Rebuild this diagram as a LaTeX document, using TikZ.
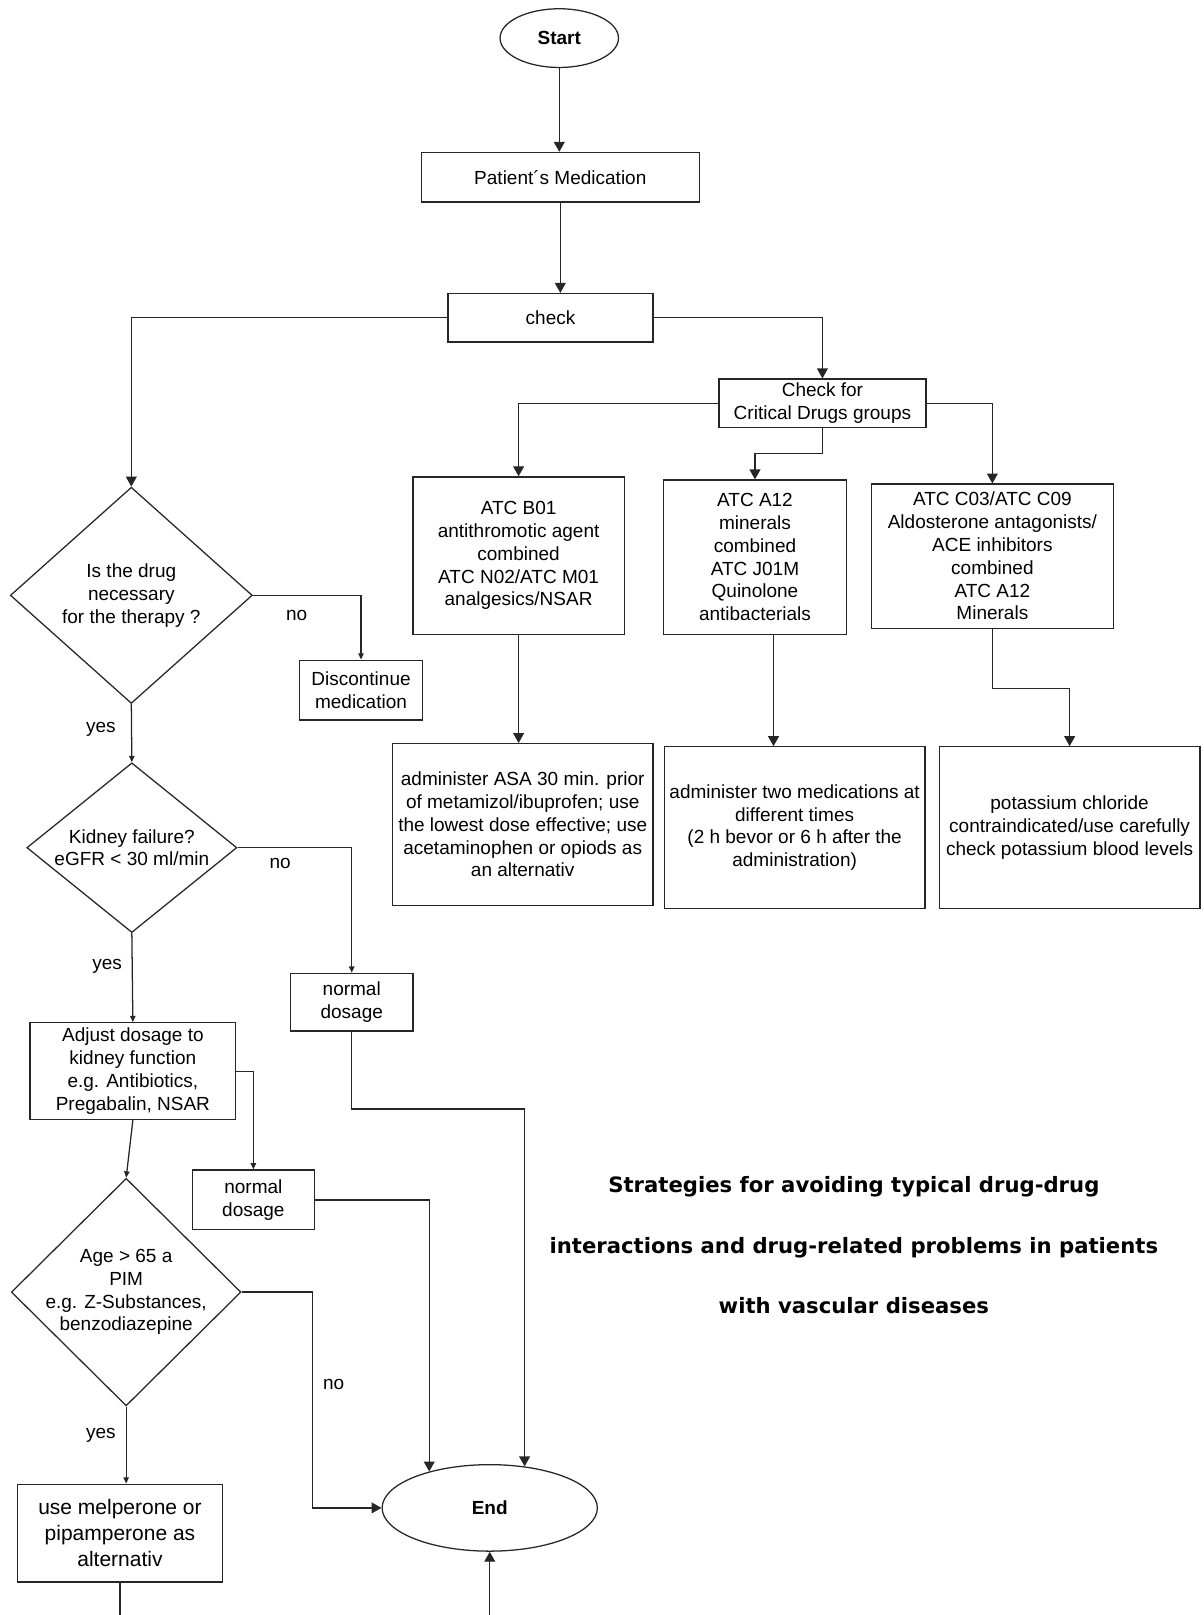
\documentclass[tikz,border=0pt]{standalone}
\usepackage{fontspec}
\setmainfont{Liberation Sans}
\newfontfamily\headfont{DejaVu Sans}
\usetikzlibrary{shapes.geometric}
\usetikzlibrary{arrows, arrows.meta}
\tikzset{flow line/.style={line width=0.7pt, draw=black!85}}
\tikzset{big arrow/.style={flow line, -{Triangle[length=5.5pt, width=6pt]}},
         small arrow/.style={flow line, -{Triangle[length=3.5pt, width=3pt]}}}
\tikzset{flow box/.style={draw=black!85, line width=0.7pt, rectangle, align=center,
           inner sep=0pt, font=\fontsize{10.5}{12.6}\selectfont},
         flow diamond/.style={flow box, diamond, inner sep=-3pt},
         flow end/.style={flow box, ellipse, font=\fontsize{10.5}{12.6}\selectfont\bfseries},
         flow label/.style={inner sep=0pt, font=\fontsize{10.5}{12.6}\selectfont},
         title text/.style={align=center, font=\headfont\bfseries\fontsize{11.7}{33.5}\selectfont}}

\begin{document}
\begin{tikzpicture}[x=0.02cm, y=-0.02cm]
    \useasboundingbox (0,0) rectangle (1168,1568);
    \clip (0,0) rectangle (1168,1568);
    % top of the chart
    \node[flow end, minimum width=2.3cm, minimum height=1.14cm] (start) at (543,37) {Start};
    \node[flow box, minimum width=5.4cm, minimum height=0.96cm] (medication) at (544,172) {Patient´s Medication};
    \node[flow box, minimum width=3.98cm, minimum height=0.94cm] (check) at (534.5,308.5) {check};
    \node[flow box, minimum width=4.02cm, minimum height=0.94cm] (critical) at (798.5,391.5) {Check for\\Critical Drugs groups};

    % critical drug groups
    \node[flow box, minimum width=4.1cm, minimum height=3.06cm] (atcb) at (503.5,539.5)
      {ATC B01\\antithromotic agent\\combined\\ATC N02/ATC M01\\analgesics/NSAR};
    \node[flow box, minimum width=3.56cm, minimum height=3cm] (atca) at (733,541)
      {ATC A12\\minerals\\combined\\ATC J01M\\Quinolone\\antibacterials};
    \node[flow box, minimum width=4.7cm, minimum height=2.8cm] (atcc) at (963.5,540)
      {ATC C03/ATC C09\\Aldosterone antagonists/\\ACE inhibitors\\combined\\ATC A12\\Minerals};
    \node[flow box, minimum width=5.06cm, minimum height=3.14cm] (asa) at (507.5,800.5)
      {administer ASA 30 min. prior\\of metamizol/ibuprofen; use\\the lowest dose effective; use\\acetaminophen or opiods as\\an alternativ};
    \node[flow box, minimum width=5.06cm, minimum height=3.14cm] (twomed) at (771.5,803.5)
      {administer two medications at\\different times\\(2 h bevor or 6 h after the\\administration)};
    \node[flow box, minimum width=5.06cm, minimum height=3.14cm] (potassium) at (1038.5,803.5)
      {potassium chloride\\contraindicated/use carefully\\check potassium blood levels};

    % left column
    \node[flow diamond, minimum width=4.7cm, minimum height=4.2cm] (necessary) at (127.5,578)
      {Is the drug\\necessary\\for the therapy ?};
    \node[flow box, minimum width=2.38cm, minimum height=1.16cm] (discontinue) at (350.5,670) {Discontinue\\medication};
    \node[flow diamond, minimum width=4.08cm, minimum height=3cm] (kidney) at (128,823)
      {Kidney failure?\\eGFR < 30 ml/min};
    \node[flow box, minimum width=2.38cm, minimum height=1.12cm] (normal1) at (341.5,973) {normal\\dosage};
    \node[flow box, minimum width=4cm, minimum height=1.88cm] (adjust) at (129,1040)
      {Adjust dosage to\\kidney function\\e.g. Antibiotics,\\Pregabalin, NSAR};
    \node[flow box, minimum width=2.36cm, minimum height=1.16cm] (normal2) at (246,1165) {normal\\dosage};
    \node[flow diamond, minimum width=4.46cm, minimum height=4.42cm] (age) at (122.5,1254.5)
      {Age > 65 a\\PIM\\e.g. Z-Substances,\\benzodiazepine};
    \node[flow box, minimum width=3.98cm, minimum height=1.9cm, font=\fontsize{11.6}{14.2}\selectfont] (melperone) at (116.5,1488.5)
      {use melperone or\\pipamperone as\\alternativ};
    \node[flow end, minimum width=4.18cm, minimum height=1.68cm] (end) at (475.5,1464) {End};

    \node[flow label] (no1) at (288,598) {no};
    \node[flow label] (yes1) at (98,708) {yes};
    \node[flow label] (no2) at (272,838) {no};
    \node[flow label] (yes2) at (104,938) {yes};
    \node[flow label] (no3) at (324,1344) {no};
    \node[flow label] (yes3) at (98,1394) {yes};

    \node[title text] (title) at (829,1209)
      {Strategies for avoiding typical drug-drug\\interactions and drug-related problems in patients\\with vascular diseases};

    % connectors
    \draw[big arrow] (start.south) -- (start.south |- medication.north);
    \draw[big arrow] (medication.south) -- (medication.south |- check.north);
    \draw[big arrow] (check.east) -| (critical.north);
    \draw[big arrow] (check.west) -| (necessary.north);
    \draw[big arrow] (critical.west) -| (atcb.north);
    \draw[big arrow] (critical.south) -- ++(0,25) -| (atca.north);
    \draw[big arrow] (critical.east) -| (atcc.north);
    \draw[big arrow] (atcb.south) -- (atcb.south |- asa.north);
    \draw[big arrow] ([xshift=0.36cm]atca.south) -- ([xshift=0.36cm]atca.south |- twomed.north);
    \draw[big arrow] (atcc.south) -- ++(0,58) -| (potassium.north);

    \draw[small arrow] (necessary.east) -| (discontinue.north);
    \draw[small arrow] (necessary.south) -- (kidney.north);
    \draw[small arrow] (kidney.east) -| (normal1.north);
    \draw[small arrow] (kidney.south) -- (adjust.north);
    \draw[small arrow] (adjust.east) -| (normal2.north);
    \draw[small arrow] (adjust.south) -- (age.north);
    \draw[small arrow] (age.south) -- (age.south |- melperone.north);

    \draw[big arrow] (age.east) -- ++(69,0) |- (end.west);
    \draw[big arrow] (normal1.south) -- ++(0,75) -| (end.50);
    \draw[big arrow] (normal2.east) -| (end.149);
    \draw[big arrow] (melperone.south) -- ++(0,60) -| (end.south);
\end{tikzpicture}
\end{document}
